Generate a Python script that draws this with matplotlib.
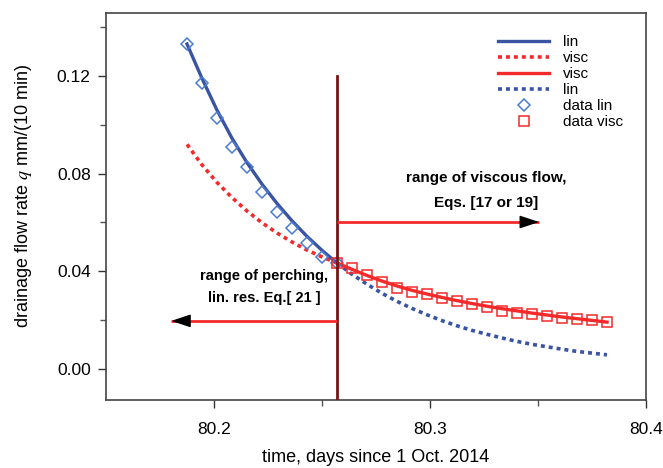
import matplotlib
matplotlib.use("Agg")
import matplotlib.pyplot as plt
from matplotlib.ticker import FixedLocator
import numpy as np

plt.rcParams['font.family'] = ['Liberation Sans', 'DejaVu Sans']
plt.rcParams['mathtext.fontset'] = 'stix'

# ---- data ----
step = 1.0 / 144.0  # 10 min in days
t0 = 80.1875
# times for the perching (lin) range: 11 points, and viscous range: 19 points
t_lin = [t0 + i * step for i in range(11)]
t_visc = [t0 + i * step for i in range(10, 29)]

data_lin = [0.1331, 0.1171, 0.1028, 0.0909, 0.0827, 0.0725, 0.0643, 0.0577,
            0.0516, 0.0459, 0.0434]
data_visc = [0.0434, 0.0414, 0.0385, 0.0356, 0.0332, 0.0315, 0.0307, 0.0291,
             0.0278, 0.0266, 0.0254, 0.0238, 0.0229, 0.0225, 0.0217, 0.0209,
             0.0205, 0.0201, 0.0192]

# model curves
lin_fit = [0.1331, 0.1190, 0.1060, 0.0945, 0.0845, 0.0757, 0.0678, 0.0607,
           0.0543, 0.0486, 0.0434]
lin_ext = [0.0434, 0.0388, 0.0347, 0.0310, 0.0277, 0.0248, 0.0222, 0.0198,
           0.0177, 0.0158, 0.0142, 0.0127, 0.0113, 0.0101, 0.0091, 0.0081,
           0.0072, 0.0065, 0.0058]
visc_ext = [0.0920, 0.0836, 0.0764, 0.0702, 0.0647, 0.0599, 0.0557, 0.0520,
            0.0487, 0.0459, 0.0434]
visc_fit = [0.0434, 0.0408, 0.0383, 0.0360, 0.0340, 0.0322, 0.0307, 0.0293,
            0.0280, 0.0268, 0.0257, 0.0247, 0.0238, 0.0229, 0.0221, 0.0213,
            0.0206, 0.0199, 0.0192]

t_switch = 80.2569
q_top_line = 0.12

blue = '#3A54A4'
blue_data = '#4A7BD0'
red = '#F42A2A'
darkred = '#7A1414'

fig = plt.figure(figsize=(6.63, 4.68), dpi=100)
ax = fig.add_axes([106 / 663, 68 / 468, 540 / 663, 387 / 468])

dots = (0, (1.1, 1.1))
h1, = ax.plot(t_lin, lin_fit, color=blue, lw=2.4, label='lin', zorder=3)
h2, = ax.plot(t_lin, visc_ext, color=red, lw=2.6, ls=dots, label='visc', zorder=2)
h3, = ax.plot(t_visc, visc_fit, color=red, lw=2.4, label='visc', zorder=3)
h4, = ax.plot(t_visc, lin_ext, color=blue, lw=2.6, ls=dots, label='lin', zorder=2)
h5, = ax.plot(t_lin, data_lin, ls='none', marker='D', ms=6, mfc='none',
              mec=blue_data, mew=1.1, label='data lin', zorder=4)
h6, = ax.plot(t_visc, data_visc, ls='none', marker='s', ms=6.5, mfc='none',
              mec=red, mew=1.1, label='data visc', zorder=4)

ymin, ymax = -0.0127, 0.1458
ax.set_xlim(80.15, 80.4)
ax.set_ylim(ymin, ymax)

# vertical separator
ax.plot([t_switch, t_switch], [ymin, q_top_line], color=darkred, lw=2.0, zorder=5)

# arrows
def arrow(x0, x1, y):
    ax.plot([x0, x1], [y, y], color=red, lw=2.0, zorder=5, solid_capstyle='butt')
    head = 0.0085 * np.sign(x1 - x0)
    ax.annotate('', xy=(x1, y), xytext=(x1 - head, y),
                arrowprops=dict(arrowstyle='-|>,head_length=1.2,head_width=0.4',
                                color='black', lw=1, shrinkA=0, shrinkB=0),
                zorder=6)

arrow(t_switch, 80.1802, 0.0197)
arrow(t_switch, 80.3505, 0.0602)

ax.text(80.3259, 0.0733, 'range of viscous flow,\nEqs. [17 or 19]', ha='center',
        va='center', fontsize=11, fontweight='bold', linespacing=2.0)
ax.text(80.2231, 0.0336, 'range of perching,\nlin. res. Eq.[ 21 ]', ha='center',
        va='center', fontsize=10.5, fontweight='bold', linespacing=1.75)

ax.xaxis.set_major_locator(FixedLocator([80.2, 80.3, 80.4]))
ax.xaxis.set_minor_locator(FixedLocator([80.25, 80.35]))
ax.set_xticklabels(['80.2', '80.3', '80.4'])
ax.yaxis.set_major_locator(FixedLocator([0.0, 0.04, 0.08, 0.12]))
ax.yaxis.set_minor_locator(FixedLocator([0.02, 0.06, 0.10, 0.14]))
ax.set_yticklabels(['0.00', '0.04', '0.08', '0.12'])
ax.tick_params(which='major', direction='out', length=6, width=1, colors='#333333',
               labelsize=12.5, labelcolor='black')
ax.tick_params(axis='x', which='major', pad=9.5)
ax.tick_params(axis='y', which='major', pad=5)
ax.tick_params(which='minor', direction='out', length=4, width=1, colors='#555555')
for s in ax.spines.values():
    s.set_color('#444444')
    s.set_linewidth(1.2)

ax.set_xlabel('time, days since 1 Oct. 2014', fontsize=13, labelpad=9)
ax.set_ylabel('drainage flow rate $q$ mm/(10 min)', fontsize=13)
ax.yaxis.set_label_coords(-0.1336, 0.527)

leg = ax.legend(handles=[h1, h2, h3, h4, h5, h6], loc='upper left',
                bbox_to_anchor=(0.726, 0.942), frameon=False, fontsize=11,
                handlelength=3.35, handletextpad=0.9, labelspacing=0.13,
                borderpad=0, borderaxespad=0)

fig.savefig('out.png', dpi=100)
